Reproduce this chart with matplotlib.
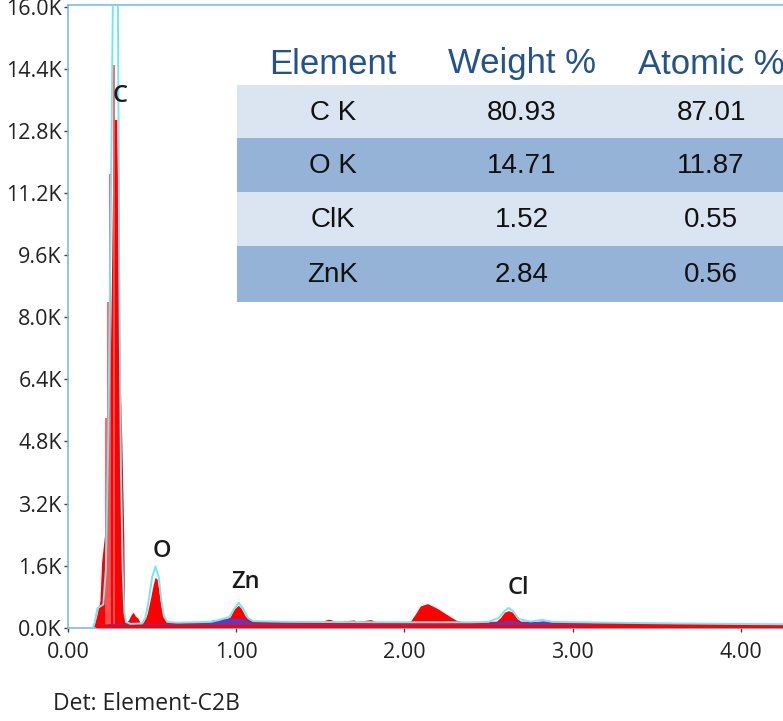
import matplotlib
matplotlib.use("Agg")
import matplotlib.pyplot as plt
from matplotlib.patches import Rectangle
from matplotlib.transforms import Affine2D
from matplotlib.ticker import FuncFormatter

# ---------------- data ----------------
# measured spectrum (keV, counts)
spec_e = [0.149, 0.17, 0.19, 0.20, 0.22, 0.238, 0.25, 0.26, 0.27, 0.29, 0.30, 0.31, 0.32,
          0.332, 0.336, 0.342, 0.36, 0.375, 0.387, 0.40, 0.415, 0.43, 0.446, 0.46, 0.47,
          0.488, 0.506, 0.518, 0.53, 0.542, 0.554, 0.565, 0.583, 0.607, 0.70, 0.80, 0.875,
          0.935, 0.964, 0.988, 1.012, 1.03, 1.054, 1.083, 1.13, 1.50, 1.55, 1.60, 1.70,
          1.72, 1.80, 1.83, 1.90, 2.00, 2.036, 2.065, 2.095, 2.137, 2.167, 2.202, 2.238,
          2.274, 2.31, 2.345, 2.45, 2.548, 2.571, 2.595, 2.619, 2.643, 2.667, 2.69, 2.80,
          3.00, 3.50, 4.00, 4.40]
spec_c = [0, 300, 700, 1700, 2500, 4800, 6400, 9600, 13100, 13100, 9600, 6400, 4800,
          2300, 300, 120, 200, 330, 400, 300, 250, 120, 130, 250, 350,
          700, 1100, 1300, 1250, 900, 550, 300, 180, 150, 150, 160, 200,
          220, 280, 480, 580, 500, 300, 200, 160, 160, 220, 160, 200,
          160, 210, 160, 150, 150, 170, 350, 560, 620, 560, 480, 380,
          280, 190, 160, 150, 170, 260, 400, 440, 400, 260, 170, 160,
          150, 130, 110, 100]

# thin raw spikes on the C peak
spike_e = [0.226, 0.236, 0.250, 0.276]
spike_c = [5400, 8400, 11700, 14500]

# fitted spectrum
fit_e = [0.149, 0.16, 0.175, 0.21, 0.225, 0.24, 0.255, 0.27, 0.295, 0.305, 0.315, 0.325,
         0.335, 0.345, 0.37, 0.44, 0.46, 0.48, 0.50, 0.52, 0.54, 0.555, 0.57, 0.59, 0.65,
         0.85, 0.90, 0.96, 0.99, 1.015, 1.04, 1.07, 1.10, 1.30, 2.00, 2.40, 2.50, 2.56,
         2.595, 2.62, 2.645, 2.68, 2.75, 2.82, 2.88, 3.20, 3.60, 4.00, 4.40]
fit_c = [0, 150, 500, 600, 1500, 5000, 11000, 17500, 17500, 9000, 4000, 1500,
         400, 150, 100, 110, 250, 700, 1300, 1580, 1300, 700, 300, 150, 130,
         150, 200, 280, 500, 640, 500, 250, 170, 150, 140, 140, 150, 250,
         430, 510, 430, 220, 160, 200, 150, 130, 110, 95, 85]

# background
bg_e = [0.17, 0.18, 0.30, 0.60, 0.80, 0.86, 0.92, 0.98, 1.04, 1.10, 1.50, 2.45, 2.55,
        2.62, 2.70, 2.78, 2.83, 2.88, 3.20, 4.40]
bg_c = [0, 90, 120, 110, 120, 200, 230, 250, 230, 130, 110, 100, 150,
        200, 140, 160, 180, 120, 90, 70]

baseline_level = 40

# peak labels
peak_names = ["C", "O", "Zn", "Cl"]
peak_e = [0.31, 0.56, 1.055, 2.68]
peak_c = [13700, 1985, 1180, 1030]

# quantification table
tbl_header = ["Element", "Weight %", "Atomic %"]
tbl_element = ["C K", "O K", "ClK", "ZnK"]
tbl_weight = ["80.93", "14.71", "1.52", "2.84"]
tbl_atomic = ["87.01", "11.87", "0.55", "0.56"]

yticks = [0, 1600, 3200, 4800, 6400, 8000, 9600, 11200, 12800, 14400, 16000]
xticks = [0, 1, 2, 3, 4]

# ---------------- figure ----------------
W, H = 783, 721
fig = plt.figure(figsize=(W / 100, H / 100), dpi=100)
y0, y1 = 627.7, 4.7
ax_right = 810
ax = fig.add_axes([68 / W, 1 - y0 / H, (ax_right - 68) / W, (y0 - y1) / H])
ax.set_xlim(0, (ax_right - 68) / 168.2)
ax.set_ylim(0, 16000 * (y0 - y1) / (y0 - 7))

spine_col = "#7ab8f5"
for s in ax.spines.values():
    s.set_color(spine_col)
    s.set_linewidth(1.2)

ax.fill_between(spec_e, spec_c, 0, color="#ff0000", lw=0, zorder=2)
ax.vlines(spike_e, 0, spike_c, color="#ff5a5a", lw=1.3, zorder=2)
ax.fill_between(bg_e, bg_c, 0, color="#6a34b8", lw=0, zorder=3)
ax.axhline(baseline_level, xmin=0.17 / ax.get_xlim()[1], color="#ff0000", lw=2.2, zorder=3)
ax.plot(fit_e, fit_c, color="#74e6f2", lw=1.4, zorder=4)

for n, e, c in zip(peak_names, peak_e, peak_c):
    ax.text(e, c, n, ha="center", va="center", fontsize=17, fontweight="semibold",
            family="Open Sans", color="#1a1a1a", zorder=6)

ax.set_yticks(yticks)
ax.set_xticks(xticks)
ax.yaxis.set_major_formatter(FuncFormatter(lambda v, p: f"{v/1000:.1f}K"))
ax.xaxis.set_major_formatter(FuncFormatter(lambda v, p: f"{v:.2f}"))
ax.tick_params(axis="y", length=3, width=1, color="#404040", pad=1.5,
               labelsize=15.5, labelcolor="#222222")
ax.tick_params(axis="x", length=3, width=1, color="#404040", pad=7,
               labelsize=15.5, labelcolor="#222222")
for lab in ax.get_xticklabels() + ax.get_yticklabels():
    lab.set_family("Open Sans")

# ---------------- table (pixel layout) ----------------
pix = Affine2D().scale(1 / W, -1 / H).translate(0, 1) + fig.transFigure
row_top = [85, 138, 192, 246]
row_h = [53, 54, 54, 56]
row_col = ["#dbe4f1", "#95b3d7", "#dbe4f1", "#95b3d7"]
col_x = [333, 522, 711]
for i in range(4):
    fig.patches.append(Rectangle((237, row_top[i]), 600, row_h[i], transform=pix,
                                 facecolor=row_col[i], edgecolor="none", zorder=5))
    cy = row_top[i] + row_h[i] / 2 + 1
    for j, val in enumerate([tbl_element[i], tbl_weight[i], tbl_atomic[i]]):
        fig.text(col_x[j], cy, val, transform=pix, ha="center", va="center",
                 fontsize=20, family="Liberation Sans", color="#111111", zorder=6)
for j, h in enumerate(tbl_header):
    fig.text(col_x[j], 64, h, transform=pix, ha="center", va="center",
             fontsize=25, family="Liberation Sans", color="#24528a", zorder=6)

fig.text(53, 704, "Det: Element-C2B", transform=pix, ha="left", va="center",
         fontsize=16.5, family="Open Sans", color="#222222")

fig.savefig("out.png", dpi=100)
